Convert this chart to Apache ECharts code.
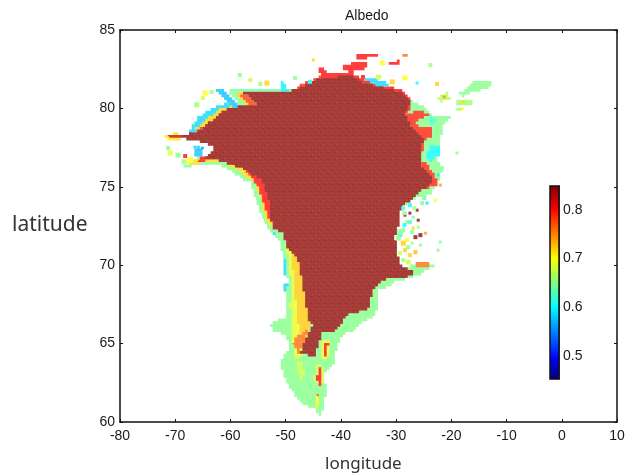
<!DOCTYPE html>
<html><head><meta charset="utf-8"><style>html,body{margin:0;padding:0;background:#fff}#c{width:635px;height:474px}</style>
<script src="https://cdn.jsdelivr.net/npm/echarts@6/dist/echarts.min.js"></script></head><body><div id="c"></div>
<script>
const lonTicks=[-80,-70,-60,-50,-40,-30,-20,-10,0,10];
const latTicks=[60,65,70,75,80,85];
const barTicks=[0.5,0.6,0.7,0.8];
const barRange=[0.453,0.849];
const cyanWest=[[-56,75.55],[-55.3,74.34],[-54.4,73.31],[-53.2,72.43],[-52.1,71.92],[-51.1,71.53],[-50.4,70.45],[-50.2,69.4],[-48,69.4],[-48.3,71.6],[-52.8,74.79]];
const cyanBlip=[[-50.3,68.9],[-49.2,68.9],[-49.2,68.3],[-50.4,68.3]];
const greenSouth=[[-55.5,75.55],[-55.2,74.34],[-54.3,73.31],[-53,72.43],[-51.2,71.6],[-50,70.19],[-49.6,68.85],[-49.9,67.57],[-49.7,66.68],[-52.3,66.36],[-52.8,66.17],[-52.3,65.72],[-49.7,65.53],[-49.6,64.57],[-51,63.74],[-50.1,62.66],[-48.3,61.57],[-46.8,61.06],[-45,60.93],[-44.1,60.42],[-43.4,60.23],[-43.4,60.74],[-42.9,61.38],[-42.5,62.21],[-43.2,62.98],[-41.4,63.74],[-40.5,65.02],[-39.8,65.53],[-37.8,65.85],[-36.5,66.3],[-34.3,66.68],[-33.2,67.32],[-33.4,68.4],[-32,68.53],[-30.5,68.91],[-26.9,69.23],[-22.9,70],[-25.6,70.19],[-29.3,69.68],[-32.9,69.04],[-40.1,67.77],[-47.4,71.6]];
const coastGreen=[[-68.6,76.26],[-65.5,76.39],[-61.9,76.39],[-59.5,75.94],[-57.9,75.43],[-56.4,75.3],[-55.5,74.34],[-54.6,73.31],[-53.4,72.43],[-52.5,72.11],[-51.9,72.55],[-51.9,74.15],[-54.3,75.75],[-57.7,76.51],[-62.4,77.03],[-65,76.96],[-67.3,76.58]];
const coastYellow=[[-67.7,76.39],[-65.5,76.51],[-61.5,76.58],[-58.8,76.07],[-57,75.56],[-55.7,75.24],[-54.6,74.34],[-53.9,73.31],[-53.2,72.55],[-52.5,72.36],[-51.9,74.15],[-54.3,75.75],[-57.7,76.51],[-62.4,77.03],[-65,76.96]];
const coastOrange=[[-65.9,76.64],[-61.5,76.77],[-58.3,76.26],[-56.1,75.62],[-54.8,74.79],[-53.7,73.51],[-52.8,72.49],[-51.9,74.15],[-54.3,75.75],[-57.7,76.51],[-62.4,77.03],[-65,76.96]];
const tailLime=[[-50.1,71.6],[-49.4,70.19],[-49,68.72],[-49.2,67.45],[-49,66.17],[-48.7,64.89],[-48.1,63.81],[-47,64.25],[-45.6,66.49],[-47.7,70.96]];
const tailYellow=[[-50.6,71.85],[-49.2,70.96],[-48.7,69.68],[-48.3,68.4],[-48.1,67.13],[-47.6,65.98],[-47.7,64.44],[-46.5,65.21],[-45.2,66.49],[-47.4,70.96]];
const tailOrange=[[-48.7,65.02],[-48.1,65.53],[-46.8,65.66],[-45.9,65.98],[-46.8,64.89],[-47.7,64.44]];
const southPale=[[-48,63.8],[-46.9,63.9],[-46.6,62.9],[-47.4,62.5]];
const southHaloA=[[-43.6,65.14],[-42,65.14],[-42.4,63.98],[-43.6,64.06]];
const southRedA=[[-43.3,65.08],[-42.2,65.08],[-42.7,64.2],[-43.3,64.5]];
const southHaloB=[[-44.3,63.7],[-43,63.5],[-43.4,62.1],[-45,62.79]];
const southRedB=[[-44,63.49],[-43.3,63.49],[-43.7,62.3],[-44.5,62.79]];
const southHaloC=[[-44.5,61.85],[-43.9,61.76],[-43.9,60.8],[-44.4,60.87]];
const southRedC=[[-44.3,61.76],[-43.9,61.63],[-44.1,60.95]];
const eastGreen=[[-27.5,80.54],[-25.6,80.22],[-23.5,79.58],[-19.8,79.45],[-21.5,78.81],[-22,77.79],[-22.4,76.7],[-21.7,76.06],[-22.4,75.24],[-23.8,74.47],[-26,74.28],[-28.4,73.83],[-29.3,77.34]];
const eastCyanA=[[-23.6,77.7],[-22.2,77.6],[-22.2,77],[-23.6,76.6],[-24.6,77]];
const eastCyanB=[[-24.2,79.5],[-22.4,79.3],[-23,79],[-24.2,79]];
const eastOrange=[[-28.4,79.58],[-27.1,79.77],[-25.6,79.9],[-24.2,79.58],[-25.6,79.26],[-26.5,79],[-25.6,78.75],[-23.5,78.94],[-23.3,78.3],[-24.7,77.98],[-25.3,77.03],[-26,77.34],[-27.1,78.62]];
const eastEdge=[[-25.1,76.7],[-22.9,75.75],[-22.6,75.11],[-24.7,74.79],[-26,76.07]];
const eastPatch=[[-27.1,70.06],[-25.6,70.25],[-24.2,70.19],[-23.8,69.94],[-26,69.87]];
const spitMain=[[-18.8,80.98],[-17.5,81.17],[-16,81.69],[-12.4,81.75],[-13,81.3],[-16.6,80.98],[-17.9,80.73]];
const spitA=[[-22.4,80.73],[-20.6,81.05],[-20.2,80.54],[-22,80.41]];
const spitB=[[-19.3,80.47],[-16.2,80.47],[-16.2,80.28],[-19.3,80.28]];
const spitC=[[-19.3,80.03],[-17.9,80.03],[-17.9,79.84],[-19.3,79.84]];
const northRed1=[[-40.1,82.64],[-37.8,82.9],[-35.1,82.9],[-35.6,82.45],[-38.3,82.32],[-39.6,82.58]];
const northRed2=[[-37.4,83.41],[-33.2,83.48],[-33.2,83.29],[-37.4,83.1]];
const northRed3=[[-31.4,82.96],[-29.3,83.09],[-29.6,82.77],[-31,82.7]];
const northRed4=[[-28.9,83.48],[-27.5,83.48],[-27.8,83.29],[-28.7,83.29]];
const northRed5=[[-43.8,82.58],[-42.5,82.45],[-42.5,82.19],[-44,82.32]];
const nwCyan=[[-67.3,78.67],[-65.9,79.44],[-62.8,80.14],[-59.7,80.4],[-59.1,79.96],[-63.7,79],[-68.2,78.16]];
const nwYellow=[[-66.8,78.6],[-64.6,79.31],[-61.9,79.96],[-59.7,80.2],[-59.1,79.96],[-62.8,79]];
const nwOrange=[[-65.9,78.6],[-63.7,79.19],[-61.2,79.83],[-59.7,80.14],[-59.1,79.96],[-62.8,79]];
const tipYellow=[[-72,78.3],[-70.2,78.43],[-68.6,78.3],[-68.9,77.98],[-71.3,77.98]];
const tipRed=[[-71.3,78.24],[-69.7,78.3],[-68.9,78.16],[-70.4,78.03]];
const notchCyan=[[-62.6,81.17],[-61.7,81.2],[-58.3,80.2],[-58.3,79.9],[-59.2,80.03]];
const notchGreen=[[-60.4,81.17],[-57.3,81.05],[-55.5,80.03],[-58.3,79.9],[-58.6,80.4]];
const notchYellow=[[-59.1,81.05],[-56.9,80.92],[-55.2,80.14],[-56.9,80],[-57.7,80.5]];
const notchOrange=[[-58.3,80.98],[-56.4,80.72],[-55,80.2],[-56.4,80.06]];
const westNotch=[[-66.1,77.6],[-65,77.47],[-65.2,76.96],[-66.8,76.9]];
const northGreen=[[-60.1,81.17],[-49.2,81.17],[-47.4,81.5],[-49.6,80.98],[-57.7,80.98]];
const northCyan=[[-51,81.81],[-50.2,81.55],[-49.2,81.05],[-50.6,80.98]];
const coastNorth=[[-49.7,80.98],[-47.7,81.43],[-45,81.87],[-43.4,82.19],[-41.9,82.07],[-43.8,81.81],[-47.4,81.17]];
const topOrange=[[-43.4,82.19],[-37.8,82.19],[-35.6,81.81],[-32,81.43],[-28.9,81.17],[-27.1,80.54],[-27.8,79.58],[-29.3,79.9],[-32.9,81.05],[-38.3,81.81],[-43.4,81.81]];
const topCyan=[[-36,81.87],[-34.3,82],[-32,81.69],[-30.7,81.5],[-33.2,81.43]];
const iceBody=[[-69.5,78.16],[-65.5,78.62],[-61.5,79.77],[-60.1,80.03],[-55.2,80.28],[-57.7,81.05],[-49.7,80.98],[-47.9,81.3],[-43.8,81.94],[-37.8,82.07],[-36,81.62],[-32.4,81.3],[-29.3,81.05],[-27.5,80.34],[-28.4,79.58],[-27.1,78.75],[-25.1,78.11],[-25.7,76.51],[-23.3,75.56],[-23.3,75.24],[-25.7,74.66],[-27.1,74.15],[-28.9,73.83],[-29.6,72.43],[-30.2,71.72],[-29.6,70.51],[-29.3,70],[-26.6,69.55],[-28,69.17],[-30.7,69.23],[-32.9,68.85],[-34.2,68.28],[-35.1,67.13],[-38.9,66.81],[-39.6,66.3],[-41.1,65.72],[-43.4,65.66],[-44.7,64.13],[-47.4,64.44],[-45.2,66.17],[-45.9,66.49],[-47,69.04],[-47.8,70.51],[-49.7,71.15],[-50.5,72.04],[-52.5,72.43],[-52.8,73.96],[-54.3,75.43],[-55,75.56],[-57.7,76.19],[-62.4,76.7],[-65,76.7],[-62.8,77.47],[-64.6,77.79]];
const layers=[[cyanWest,.585],[cyanBlip,.585],[greenSouth,.65],[southPale,.68],[coastGreen,.65],[coastYellow,.715],[coastOrange,.8],[tailLime,.69],[tailYellow,.722],[tailOrange,.76],[southHaloA,.69],[southRedA,.80],[southHaloB,.68],[southRedB,.80],[southHaloC,.70],[southRedC,.80],[eastGreen,.65],[eastCyanA,.6],[eastCyanB,.62],[eastOrange,.79],[eastEdge,.79],[eastPatch,.76],[spitMain,.65],[spitA,.67],[spitB,.66],[spitC,.66],[northRed1,.80],[northRed2,.80],[northRed3,.80],[northRed4,.76],[northRed5,.80],[nwCyan,.585],[nwYellow,.72],[nwOrange,.79],[tipYellow,.71],[tipRed,.82],[notchCyan,.575],[notchGreen,.65],[notchYellow,.72],[notchOrange,.78],[westNotch,.575],[northGreen,.64],[northCyan,.595],[coastNorth,.79],[topOrange,.8],[topCyan,.585],[iceBody,.845]];
const specks=[[-28.4,73.19,.845,3],[-27.5,73.32,.845,3],[-26.2,73.51,.845,3],[-26,72.87,.845,3],[-26.9,72.36,.72,3],[-25.6,71.92,.845,4],[-26.5,71.79,.845,4],[-28,72.75,.66,4],[-28.7,72.24,.65,4],[-29.3,71.92,.59,4],[-29.6,71.72,.65,5],[-28,71.6,.7,4],[-27.1,71.4,.66,3],[-26.5,70.83,.73,4],[-28.4,70.96,.72,4],[-27.5,70.64,.72,4],[-28.7,70.32,.66,4],[-25.6,71.28,.65,3],[-24.7,72.04,.74,3],[-26.9,73.06,.65,3],[-25.3,73.96,.65,4],[-24.4,73.96,.59,3],[-27.5,73.83,.6,4],[-28.7,73.64,.62,4],[-22.4,70.96,.65,3],[-22,71.47,.65,3],[-22.9,74.15,.7,3],[-22,75.11,.74,3],[-22.4,75.75,.59,3],[-29.3,72.11,.65,6],[-28.5,72.55,.6,4],[-28.7,71.4,.72,5],[-29.3,70.77,.68,4],[-27.8,71.15,.65,4],[-27.1,72.11,.65,4],[-27.5,72.75,.62,4],[-28.5,73.32,.65,4],[-26.7,73.64,.66,4],[-24.9,74.28,.64,4],[-26,72.42,.66,3],[-27.8,70.19,.68,5],[-58.3,82.13,.65,4],[-64.6,80.98,.7,5],[-63.4,81.05,.66,4],[-66.1,80.23,.66,5],[-65,80.66,.68,4],[-56.4,81.81,.68,4],[-53.4,81.62,.72,5],[-54.6,81.55,.66,4],[-48.3,81.94,.65,4],[-45,83.09,.72,3],[-45.6,81.7,.6,4],[-33.2,82,.68,5],[-30.7,81.69,.72,5],[-28.4,81.94,.7,5],[-26.2,81.62,.6,3],[-22.6,81.56,.72,4],[-23.8,82.77,.66,4],[-32.5,82.9,.7,5],[-36,82,.8,4],[-21.3,80.73,.75,3],[-17.9,80.41,.72,3],[-18,79.96,.7,3],[-19,77.15,.65,3],[-21.7,76.18,.65,4],[-70.9,77.15,.69,5],[-69.5,77.02,.65,5],[-68.2,76.96,.8,4],[-67.3,76.7,.7,6],[-68.4,76.6,.66,5],[-71.3,77.47,.65,4],[-65.9,77.15,.58,3],[-65.1,77.47,.56,3],[-66.4,77.53,.58,3]];

const jetStops=[[0,[0,0,.5]],[.11,[0,0,1]],[.375,[0,1,1]],[.5,[.5,1,.5]],[.625,[1,1,0]],[.875,[1,0,0]],[1,[.5,0,0]]];
function jet(t){t=Math.max(0,Math.min(1,t));for(let i=1;i<jetStops.length;i++){const a=jetStops[i-1],b=jetStops[i];if(t<=b[0]){const f=(t-a[0])/(b[0]-a[0]);return a[1].map((v,k)=>v+(b[1][k]-v)*f);}}return jetStops[6][1];}
function tone(v){const c=jet((v-barRange[0])/(barRange[1]-barRange[0]));return 'rgb('+c.map(x=>Math.round(255*(.76*x+.24))).join(',')+')';}
const cell=2.7;
function blocky(pts){const out=[];let lx=null,ly=null;const n=pts.length;for(let i=0;i<n;i++){const a=pts[i],b=pts[(i+1)%n];const steps=Math.max(1,Math.ceil(Math.hypot(b[0]-a[0],b[1]-a[1])/(cell/2)));for(let k=0;k<steps;k++){const x=a[0]+(b[0]-a[0])*k/steps,y=a[1]+(b[1]-a[1])*k/steps;const sx=Math.round(x/cell)*cell,sy=Math.round(y/cell)*cell;if(lx===null){out.push([sx,sy]);}else if(sx!==lx||sy!==ly){out.push([sx,ly]);out.push([sx,sy]);}lx=sx;ly=sy;}}return out;}
const tile=document.createElement('canvas');tile.width=7;tile.height=7;(function(){const g=tile.getContext('2d');g.fillStyle='#a63d39';g.fillRect(0,0,7,7);g.fillStyle='#9b3330';g.fillRect(2,2,3,1);g.fillRect(5,5,2,1);g.fillStyle='#ad4641';g.fillRect(0,4,2,1);g.fillRect(4,0,1,2);})();
const ink='#111', txt='#1a1a1a', sans='"Liberation Sans",Arial,sans-serif';
const baseAxis={axisLine:{onZero:false,lineStyle:{color:ink,width:1.5}},axisTick:{inside:true,length:3,lineStyle:{color:ink,width:1}},splitLine:{show:false},axisLabel:{color:txt,fontFamily:sans,fontSize:14}};
const chart=echarts.init(document.getElementById('c'),null,{renderer:'canvas'});
chart.setOption({animation:false,backgroundColor:'#fff',
title:[{text:'Albedo',left:340,top:4,textStyle:{fontFamily:sans,fontSize:14,fontWeight:'normal',color:txt}}],
graphic:[
{type:'text',left:12,top:215,style:{text:'latitude',font:'21px "Noto Sans"',fill:'#333'}},
{type:'text',left:325,top:456,style:{text:'longitude',font:'17px "Noto Sans"',fill:'#333'}}],
grid:[{left:120,top:30,width:497,height:392},{left:550,top:186,width:9,height:193}],
xAxis:[
{...baseAxis,type:'value',gridIndex:0,min:lonTicks[0],max:lonTicks[lonTicks.length-1],interval:10,position:'bottom',axisLabel:{...baseAxis.axisLabel,margin:7}},
{...baseAxis,type:'value',gridIndex:0,min:lonTicks[0],max:lonTicks[lonTicks.length-1],interval:10,position:'top',axisLabel:{show:false}},
{type:'value',gridIndex:1,min:0,max:1,show:false}],
yAxis:[
{...baseAxis,type:'value',gridIndex:0,min:latTicks[0],max:latTicks[latTicks.length-1],interval:5,position:'left',axisLabel:{...baseAxis.axisLabel,margin:5}},
{...baseAxis,type:'value',gridIndex:0,min:latTicks[0],max:latTicks[latTicks.length-1],interval:5,position:'right',axisLabel:{show:false}},
{...baseAxis,type:'value',gridIndex:1,min:barRange[0],max:barRange[1],position:'right',axisLine:{show:true,onZero:false,lineStyle:{color:ink,width:1.5}},axisTick:{inside:true,length:3,customValues:barTicks,lineStyle:{color:ink,width:1}},axisLabel:{...baseAxis.axisLabel,margin:4,customValues:barTicks,formatter:v=>v.toFixed(1)}}],
series:[
{type:'custom',xAxisIndex:0,yAxisIndex:0,coordinateSystem:'cartesian2d',clip:true,silent:true,z:2,
 data:layers.map((l,i)=>[l[0][0][0],l[0][0][1],i]),encode:{x:0,y:1},
 renderItem:(p,api)=>{const l=layers[api.value(2)];const isBody=l[0]===iceBody;return {type:'polygon',shape:{points:blocky(l[0].map(q=>api.coord(q)))},style:{fill:isBody?{image:tile,repeat:'repeat'}:tone(l[1])}};}},
{type:'scatter',xAxisIndex:0,yAxisIndex:0,silent:true,z:3,symbol:'rect',symbolSize:v=>v[3],data:specks,encode:{x:0,y:1},itemStyle:{opacity:1,color:p=>tone(p.value[2])}},
{type:'custom',xAxisIndex:2,yAxisIndex:2,silent:true,z:4,data:[[0,barRange[0],1,barRange[1]]],encode:{x:[0,2],y:[1,3]},
 renderItem:(p,api)=>{const a=api.coord([api.value(0),api.value(1)]),b=api.coord([api.value(2),api.value(3)]);
  return {type:'rect',shape:{x:a[0],y:b[1],width:b[0]-a[0],height:a[1]-b[1]},style:{stroke:ink,lineWidth:1.5,fill:new echarts.graphic.LinearGradient(0,1,0,0,jetStops.map(s=>({offset:s[0],color:'rgb('+s[1].map(x=>Math.round(255*x)).join(',')+')'})))}};}}
]});
</script></body></html>
